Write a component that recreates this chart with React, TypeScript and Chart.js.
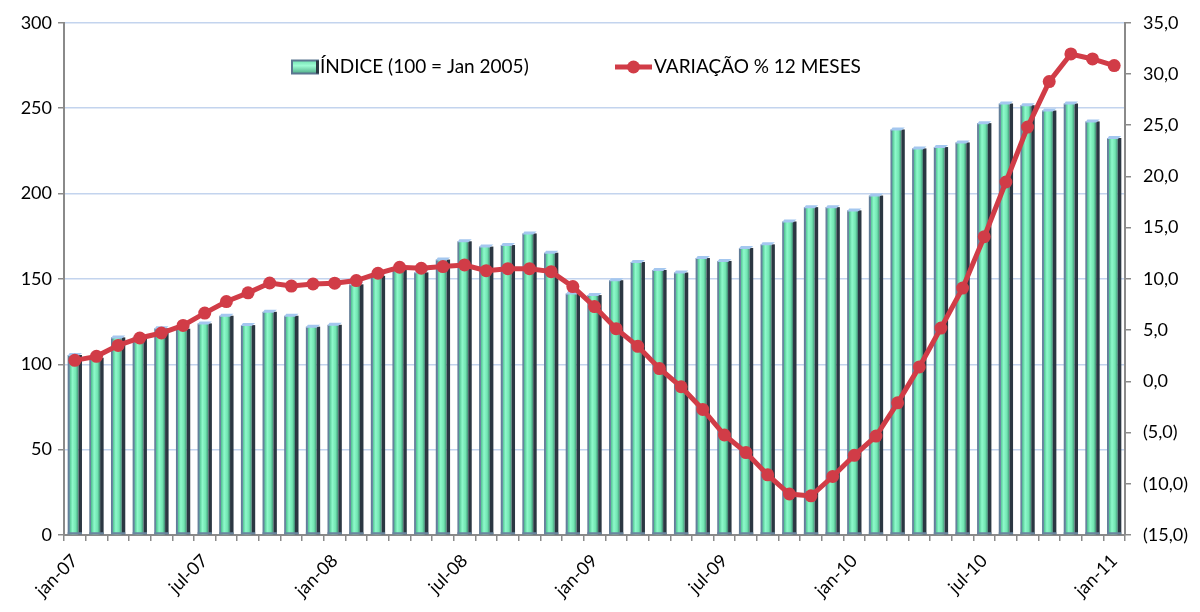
import React, { useEffect, useRef } from "react";
import { Chart, registerables } from "chart.js";

Chart.register(...registerables);

const months: string[] = [
  "jan-07","fev-07","mar-07","abr-07","mai-07","jun-07","jul-07","ago-07","set-07","out-07","nov-07","dez-07",
  "jan-08","fev-08","mar-08","abr-08","mai-08","jun-08","jul-08","ago-08","set-08","out-08","nov-08","dez-08",
  "jan-09","fev-09","mar-09","abr-09","mai-09","jun-09","jul-09","ago-09","set-09","out-09","nov-09","dez-09",
  "jan-10","fev-10","mar-10","abr-10","mai-10","jun-10","jul-10","ago-10","set-10","out-10","nov-10","dez-10",
  "jan-11",
];

const indexValues: number[] = [
  106.6, 105, 116.9, 117, 122.2, 122, 125.1, 129.6, 124.1, 131.9, 129.6, 123.2,
  124.3, 148, 153, 157, 155, 162.5, 173.2, 170.1, 171, 177.8, 166.5, 142.6,
  141.7, 150.4, 161.1, 156.4, 154.9, 163.4, 161.7, 169.3, 171.4, 184.8, 193.2, 193.2,
  191.3, 200, 238.7, 227.6, 228.4, 231.1, 242.4, 253.9, 252.9, 249.8, 253.9, 243.4,
  233.7,
];

const variationValues: number[] = [
  2.05, 2.44, 3.51, 4.23, 4.72, 5.46, 6.66, 7.79, 8.64, 9.6, 9.3, 9.5,
  9.58, 9.84, 10.55, 11.14, 11.04, 11.2, 11.36, 10.8, 11.0, 11.0, 10.71, 9.25,
  7.3, 5.14, 3.42, 1.25, -0.53, -2.74, -5.24, -6.95, -9.13, -11.0, -11.18, -9.29,
  -7.22, -5.34, -2.1, 1.41, 5.2, 9.1, 14.12, 19.46, 24.82, 29.26, 31.96, 31.47,
  30.82,
];

const seriesLabels: string[] = ["ÍNDICE (100 = Jan 2005)", "VARIAÇÃO % 12 MESES"];

const FONT = "Lato, 'Open Sans', sans-serif";
const RED = "#d13c47";
const GRAY = "#8a8a8a";

function fmtRight(v: number): string {
  const s = Math.abs(v).toFixed(1).replace(".", ",");
  return v < 0 ? `(${s})` : s;
}

const barPainter = {
  id: "barPainter",
  afterDatasetDraw(chart: any, args: any) {
    const meta = args.meta;
    if (meta.type !== "bar") return;
    const ctx = chart.ctx;
    ctx.save();
    meta.data.forEach((el: any) => {
      const { x, y, base, width } = el.getProps(["x", "y", "base", "width"], true);
      const left = x - width / 2;
      const right = x + width / 2;
      const side = 3.5;
      const top = Math.min(y, base);
      const bottom = Math.max(y, base);
      ctx.fillStyle = "#2b3742";
      ctx.fillRect(right - side, top + 2, side, bottom - top - 2);
      const g = ctx.createLinearGradient(left, 0, right - side, 0);
      g.addColorStop(0, "#5b7690");
      g.addColorStop(0.16, "#6c8aa6");
      g.addColorStop(0.2, "#55c896");
      g.addColorStop(0.45, "#8ef9cb");
      g.addColorStop(0.75, "#72e6b2");
      g.addColorStop(0.92, "#4fae88");
      g.addColorStop(1, "#3f6f6c");
      ctx.fillStyle = g;
      ctx.fillRect(left, top + 2, right - side - left, bottom - top - 2);
      ctx.fillStyle = "#a4c7ef";
      ctx.beginPath();
      ctx.moveTo(left, top + 3);
      ctx.lineTo(left + 2, top);
      ctx.lineTo(right, top);
      ctx.lineTo(right - side, top + 3);
      ctx.closePath();
      ctx.fill();
      ctx.fillStyle = "#6a86a0";
      ctx.fillRect(left, bottom - 2, right - left, 2);
    });
    ctx.restore();
  },
};

const legendPainter = {
  id: "legendPainter",
  afterDraw(chart: any) {
    const ctx = chart.ctx;
    ctx.save();
    const cy = 67;
    const bx = 292, bw = 26, bh = 13;
    const g = ctx.createLinearGradient(0, cy - bh / 2, 0, cy + bh / 2);
    g.addColorStop(0, "#6fe0b0");
    g.addColorStop(0.4, "#9ffbd4");
    g.addColorStop(1, "#4fae88");
    ctx.fillStyle = g;
    ctx.fillRect(bx, cy - bh / 2, bw, bh);
    ctx.strokeStyle = "#5b7690";
    ctx.lineWidth = 2;
    ctx.strokeRect(bx, cy - bh / 2, bw, bh);
    ctx.fillStyle = "#2b3742";
    ctx.fillRect(bx + bw - 2, cy - bh / 2, 3, bh);
    ctx.fillStyle = "#000";
    ctx.font = `19px ${FONT}`;
    ctx.textBaseline = "middle";
    ctx.textAlign = "left";
    ctx.fillText(chart.data.datasets[1].label, 320, cy);
    ctx.strokeStyle = RED;
    ctx.lineWidth = 5;
    ctx.beginPath();
    ctx.moveTo(615, cy);
    ctx.lineTo(652, cy);
    ctx.stroke();
    ctx.fillStyle = RED;
    ctx.beginPath();
    ctx.arc(633.5, cy, 6.5, 0, Math.PI * 2);
    ctx.fill();
    ctx.fillStyle = "#000";
    ctx.fillText(chart.data.datasets[0].label, 654, cy);
    ctx.restore();
  },
};

export default function App() {
  const ref = useRef<HTMLCanvasElement | null>(null);
  useEffect(() => {
    if (!ref.current) return;
    const chart = new Chart(ref.current, {
      type: "bar",
      data: {
        labels: months,
        datasets: [
          {
            type: "line",
            label: seriesLabels[1],
            data: variationValues,
            yAxisID: "yR",
            borderColor: RED,
            backgroundColor: RED,
            borderWidth: 5,
            pointRadius: 6.5,
            pointBackgroundColor: RED,
            pointBorderWidth: 0,
            tension: 0,
            order: 0,
          } as any,
          {
            type: "bar",
            label: seriesLabels[0],
            data: indexValues,
            yAxisID: "yL",
            backgroundColor: "rgba(0,0,0,0)",
            borderWidth: 0,
            barPercentage: 0.66,
            categoryPercentage: 1,
            order: 1,
          } as any,
        ],
      },
      options: {
        animation: false,
        responsive: true,
        maintainAspectRatio: false,
        layout: { padding: { top: 22, left: 0, right: 0, bottom: 0 } },
        plugins: { legend: { display: false }, tooltip: { enabled: false } },
        scales: {
          x: {
            type: "category",
            offset: true,
            grid: { drawOnChartArea: false, offset: true, tickLength: 6, color: GRAY, lineWidth: 1.5 },
            border: { color: GRAY, width: 2 },
            ticks: {
              autoSkip: false,
              maxRotation: 45,
              minRotation: 45,
              color: "#000",
              font: { family: FONT, size: 18 },
              padding: 9,
              callback: (_v: any, i: number) => (i % 6 === 0 ? months[i] : ""),
            },
            afterFit: (s: any) => { s.height = 77; },
          },
          yL: {
            position: "left",
            min: 0,
            max: 300,
            ticks: { stepSize: 50, color: "#000", font: { family: FONT, size: 18 }, padding: 6 },
            grid: { color: "#c3d4ee", lineWidth: 1.5, tickColor: GRAY, tickLength: 6 },
            border: { color: GRAY, width: 2 },
            afterFit: (s: any) => { s.width = 64; },
          },
          yR: {
            position: "right",
            min: -15,
            max: 35,
            ticks: {
              stepSize: 5,
              color: "#000",
              font: { family: FONT, size: 18 },
              padding: 12,
              callback: (v: any) => fmtRight(Number(v)),
            },
            grid: { drawOnChartArea: false, tickColor: GRAY, tickLength: 6, lineWidth: 1.5 },
            border: { color: GRAY, width: 2 },
            afterFit: (s: any) => { s.width = 75; },
          },
        },
      } as any,
      plugins: [barPainter, legendPainter],
    });
    return () => chart.destroy();
  }, []);
  return (
    <div style={{ position: "fixed", left: 0, top: 0, width: 1200, height: 612, background: "#fff" }}>
      <canvas ref={ref} />
    </div>
  );
}
